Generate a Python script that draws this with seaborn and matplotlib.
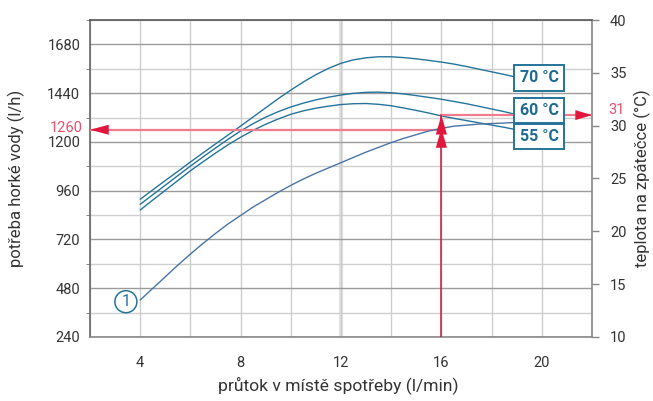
import matplotlib
matplotlib.use("Agg")
import pandas as pd
import matplotlib.pyplot as plt
import seaborn as sns
from matplotlib.patches import Rectangle
from matplotlib.ticker import MultipleLocator

# values
flow = [4, 4.5, 5, 5.5, 6, 6.5, 7, 7.5, 8, 8.5, 9, 9.5, 10, 10.5, 11, 11.5,
        12, 12.5, 13, 13.5, 14, 14.5, 15, 15.5, 16, 16.5, 17, 17.5, 18, 18.5, 18.9]
demand_70 = [918, 964, 1010, 1055, 1101, 1146, 1190, 1234, 1278, 1323, 1368, 1413, 1455, 1495, 1531, 1562,
             1587, 1604, 1614, 1619, 1619, 1615, 1609, 1601, 1593, 1583, 1571, 1558, 1545, 1532, 1521]
demand_60 = [893, 940, 987, 1034, 1081, 1126, 1170, 1213, 1254, 1290, 1322, 1349, 1372, 1391, 1407, 1420,
             1431, 1439, 1444, 1445, 1442, 1436, 1428, 1419, 1410, 1399, 1388, 1375, 1362, 1349, 1337]
demand_55 = [865, 914, 962, 1010, 1058, 1102, 1145, 1186, 1223, 1257, 1287, 1313, 1336, 1353, 1366, 1376,
             1384, 1388, 1389, 1385, 1378, 1367, 1355, 1342, 1328, 1316, 1305, 1294, 1283, 1272, 1262]
return_temp = [13.5, 14.6, 15.7, 16.8, 17.85, 18.85, 19.8, 20.7, 21.5, 22.3, 23.0, 23.7, 24.35, 24.95, 25.5, 26.0,
               26.5, 27.0, 27.5, 27.95, 28.4, 28.8, 29.15, 29.5, 29.75, 29.95, 30.05, 30.15, 30.2, 30.25, 30.3]
temp_labels = ["70 °C", "60 °C", "55 °C"]

left_ticks = [240, 480, 720, 960, 1200, 1440, 1680]
right_ticks = [10, 15, 20, 25, 30, 35, 40]
x_ticks = [4, 8, 12, 16, 20]

read_flow = 16
read_demand = 1260
read_temp = 31

teal = "#26749a"
slate = "#4a74a6"
red = "#e3173e"
pink = "#f07c8e"
txt = "#333333"

sns.set_style("white")
plt.rcParams["font.family"] = ["Roboto", "DejaVu Sans"]
plt.rcParams["font.size"] = 11

df = pd.DataFrame({"flow": flow, "70 °C": demand_70, "60 °C": demand_60, "55 °C": demand_55})
long = df.melt(id_vars="flow", var_name="temp", value_name="demand")

fig = plt.figure(figsize=(6.53, 4.01), dpi=100)
ax = fig.add_axes([90 / 653, 1 - 337 / 401, 502 / 653, 317 / 401])

sns.lineplot(data=long, x="flow", y="demand", hue="temp", hue_order=temp_labels,
             palette=[teal] * 3, legend=False, lw=1.0, ax=ax)

ax.set_xlim(2, 22)
ax.set_ylim(240, 1800)
ax.set_xticks(x_ticks)
ax.xaxis.set_minor_locator(MultipleLocator(2))
ax.set_yticks(left_ticks)
ax.yaxis.set_minor_locator(MultipleLocator(120))

ax.grid(which="major", axis="y", color="#9c9c9c", lw=1)
ax.grid(which="minor", axis="y", color="#cfcfcf", lw=1)
ax.grid(which="both", axis="x", color="#cccccc", lw=1)
ax.axvline(12, color="#e2e2e2", lw=3, zorder=0.5)
for t in ax.xaxis.get_major_ticks():
    if t.get_loc() == 12:
        t.gridline.set_visible(False)

ax.tick_params(axis="x", which="both", length=0, pad=14, labelsize=10.5, labelcolor=txt)
ax.tick_params(axis="y", which="major", length=0, pad=7, labelsize=10.5, labelcolor=txt)
ax.tick_params(axis="y", which="minor", length=3, color="#777777")
ax.annotate(str(read_demand), xy=(0, read_demand), xycoords=ax.get_yaxis_transform(),
            xytext=(-5, 1.5), textcoords="offset points", ha="right", va="center",
            fontsize=10.5, color="#e8506a")

for side, c in [("left", "#666666"), ("top", "#555555"), ("bottom", "#888888"), ("right", "#888888")]:
    ax.spines[side].set_color(c)
    ax.spines[side].set_linewidth(1.2)

ax.set_xlabel("průtok v místě spotřeby (l/min)", fontsize=12.6, color=txt)
ax.set_ylabel("potřeba horké vody (l/h)", fontsize=12, color=txt)
ax.xaxis.set_label_coords(0.495, -0.125)
ax.yaxis.set_label_coords(-0.13, 0.5)

# right axis with return temperature
ax2 = ax.twinx()
sns.lineplot(x=flow, y=return_temp, color=slate, lw=1.0, ax=ax2)
ax2.set_ylim(10, 40)
ax2.set_yticks(right_ticks)
ax2.tick_params(axis="y", length=5, width=1, color="#888888", pad=8, labelsize=10.5, labelcolor=txt)
for s in ax2.spines.values():
    s.set_visible(False)
ax2.set_ylabel("teplota na zpátečce (°C)", fontsize=12, color=txt, rotation=90)
ax2.yaxis.set_label_coords(1.084, 0.5)
ax2.annotate(str(read_temp), xy=(1, read_temp), xycoords=ax2.get_yaxis_transform(),
             xytext=(11.6, 3.8), textcoords="offset points", ha="left", va="center",
             fontsize=10.5, color="#e8506a")

# reading lines
ax.plot([2, read_flow], [read_demand, read_demand], color=pink, lw=1.6, zorder=3)
ax2.plot([read_flow, 22], [read_temp, read_temp], color=pink, lw=1.6, zorder=3)
ax2.plot([read_flow, read_flow], [10, read_temp], color="#c8173a", lw=1.1, zorder=3)

ax.annotate("", xy=(2, read_demand), xytext=(3.0, read_demand),
            arrowprops=dict(arrowstyle="-|>,head_length=1.35,head_width=0.36", mutation_scale=10,
                            color=red, lw=0, shrinkA=0, shrinkB=0), zorder=4)
ax2.annotate("", xy=(22, read_temp), xytext=(21.2, read_temp),
             arrowprops=dict(arrowstyle="-|>,head_length=1.2,head_width=0.36", mutation_scale=10,
                             color=red, lw=0, shrinkA=0, shrinkB=0), zorder=4, annotation_clip=False)
ax2.annotate("", xy=(read_flow, read_temp), xytext=(read_flow, read_temp - 2.0),
             arrowprops=dict(arrowstyle="-|>,head_length=1.4,head_width=0.4", mutation_scale=10,
                             color=red, lw=0, shrinkA=0, shrinkB=0), zorder=4)
cross = return_temp[flow.index(read_flow)]
ax2.annotate("", xy=(read_flow, cross), xytext=(read_flow, cross - 2.1),
             arrowprops=dict(arrowstyle="-|>,head_length=1.4,head_width=0.4", mutation_scale=10,
                             color=red, lw=0, shrinkA=0, shrinkB=0), zorder=5)

# curve labels
box_x, box_w, box_h = (514 - 90) / 502, 50 / 502, 25.7 / 317
for lab, yb in zip(temp_labels, [(337 - 90.7) / 317, (337 - 123.3) / 317, (337 - 149.3) / 317]):
    ax2.add_patch(Rectangle((box_x, yb), box_w, box_h, transform=ax2.transAxes,
                            fc="white", ec=teal, lw=1.4, zorder=6))
    ax2.text(box_x + box_w / 2, yb + box_h / 2, lab, transform=ax2.transAxes,
             ha="center", va="center", fontsize=11.5, fontweight="bold", color="#1d6a92", zorder=7)

ax2.text(3.43, 13.34, "1", ha="center", va="center", fontsize=11.5, color=teal, zorder=6,
         bbox=dict(boxstyle="circle,pad=0.22", fc="white", ec=teal, lw=1.1))

fig.savefig("out.png", dpi=100)
